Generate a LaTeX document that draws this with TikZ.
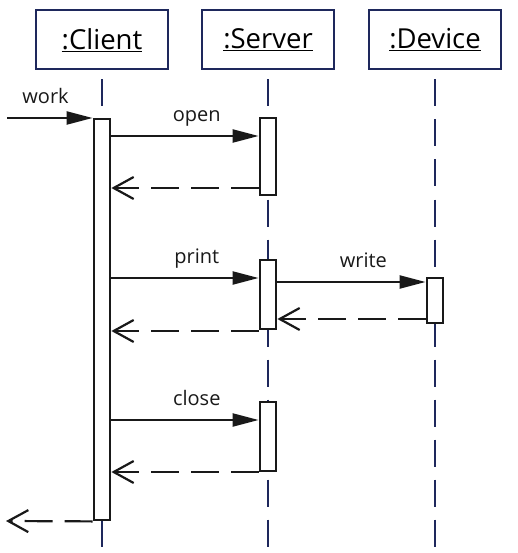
\documentclass[tikz,border=0pt]{standalone}
\usepackage{fontspec}
\setmainfont{Open Sans}
\usetikzlibrary{arrows.meta}

\definecolor{lifeblue}{RGB}{30,40,92}
\tikzset{
  objhead/.style={draw=lifeblue, line width=2pt, fill=white, inner sep=0,
                  minimum width=132pt, minimum height=59pt,
                  font=\fontsize{27.5}{31}\selectfont},
  lifeline/.style={lifeblue, line width=2.4pt, dash pattern=on 27pt off 13pt},
  actbox/.style={draw=black!90, fill=white, line width=2.8pt, inner sep=0,
                 minimum width=16pt},
  call msg/.style={black!90, line width=2.2pt, -{Triangle[length=26pt,width=13pt]}},
  reply msg/.style={black!90, line width=2.2pt, dash pattern=on 28pt off 12pt,
                    -{Straight Barb[length=20pt,width=22pt,line width=2.2pt]}},
  msglabel/.style={font=\fontsize{20}{24}\selectfont, inner sep=0,
                   text depth=0pt, above=13pt},
}

\begin{document}
\begin{tikzpicture}[x=1pt, y=-1pt]
        % 1 unit = 1 px of the 517 x 553 sheet, y grows downwards
        % lifelines at x = 102, 268, 435
        \useasboundingbox (0,0) rectangle (517,553);

        % ---- object heads ----
        \node[objhead] (client) at (102, 40) {\underline{:Client}};
        \node[objhead] (server) at (268, 40) {\underline{:Server}};
        \node[objhead] (device) at (435, 40) {\underline{:Device}};

        % ---- lifelines (drawn first, boxes sit on top) ----
        \coordinate (ybot) at (0, 547);
        \draw[lifeline] ([yshift=-9pt]client.south) -- (client.south |- ybot);
        \draw[lifeline] ([yshift=-9pt]server.south) -- (server.south |- ybot);
        \draw[lifeline] ([yshift=-9pt]device.south) -- (device.south |- ybot);

        % ---- activation boxes ----
        \node[actbox, minimum height=401pt] (cact)  at (102, 319.5) {};
        \node[actbox, minimum height=77pt]  (sact1) at (268, 156.5) {};
        \node[actbox, minimum height=69pt]  (sact2) at (268, 294.5) {};
        \node[actbox, minimum height=69pt]  (sact3) at (268, 436.5) {};
        \node[actbox, minimum height=45pt]  (dact)  at (435, 300.5) {};

        % ---- message heights ----
        \coordinate (ywork)   at (0, 118);
        \coordinate (yopen)   at (0, 136);
        \coordinate (yopenr)  at (0, 188);
        \coordinate (yprint)  at (0, 278);
        \coordinate (ywrite)  at (0, 282);
        \coordinate (ywriter) at (0, 319);
        \coordinate (yprintr) at (0, 331);
        \coordinate (yclose)  at (0, 420);
        \coordinate (ycloser) at (0, 472);
        \coordinate (workin)  at (7, 118);
        \coordinate (workout) at (6, 521);

        % ---- work ----
        \draw[call msg] (workin) -- node[msglabel, pos=0.45] {work} (cact.west |- ywork);

        % ---- open ----
        \draw[call msg] (cact.east |- yopen) -- node[msglabel, pos=0.58] {open} (sact1.west |- yopen);
        \draw[reply msg] (sact1.west |- yopenr) -- (cact.east |- yopenr);

        % ---- print / write ----
        \draw[call msg] (cact.east |- yprint) -- node[msglabel, pos=0.58] {print} (sact2.west |- yprint);
        \draw[call msg] (sact2.east |- ywrite) -- node[msglabel, pos=0.58] {write} (dact.west |- ywrite);
        \draw[reply msg] (dact.west |- ywriter) -- (sact2.east |- ywriter);
        \draw[reply msg] (sact2.west |- yprintr) -- (cact.east |- yprintr);

        % ---- close ----
        \draw[call msg] (cact.east |- yclose) -- node[msglabel, pos=0.58] {close} (sact3.west |- yclose);
        \draw[reply msg] (sact3.west |- ycloser) -- (cact.east |- ycloser);

        % ---- back to caller ----
        \draw[reply msg] (cact.south west) -- (workout);
\end{tikzpicture}
\end{document}
